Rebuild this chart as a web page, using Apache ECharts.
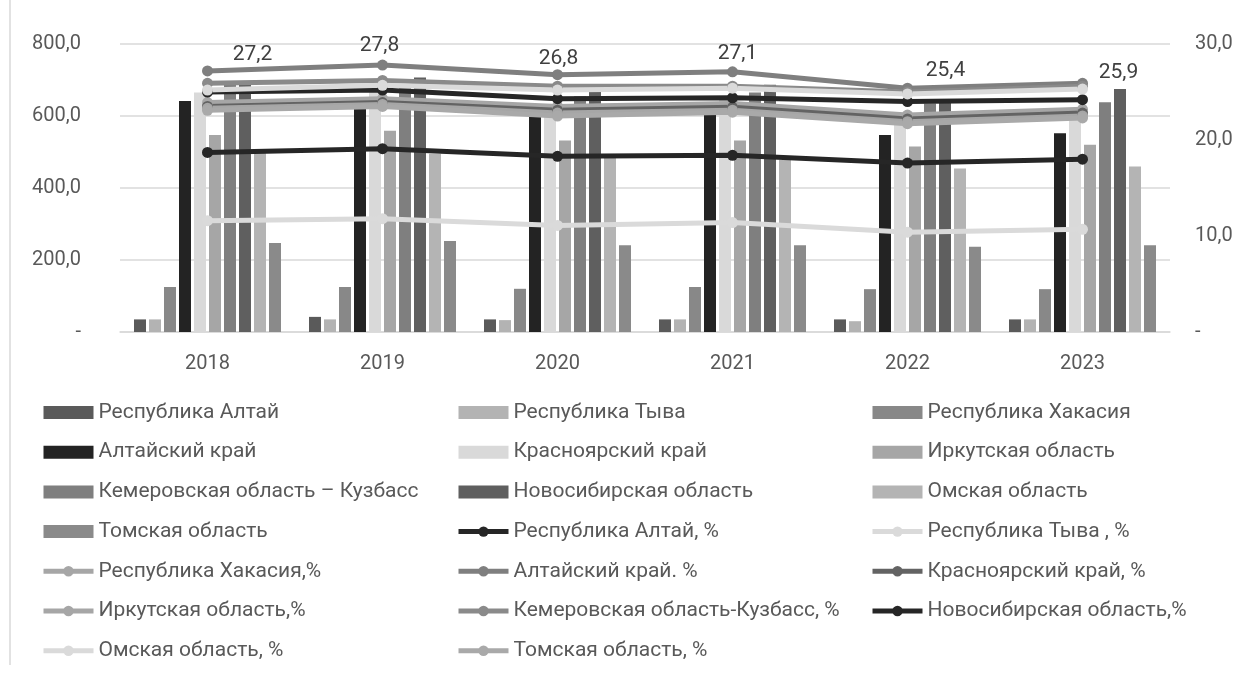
<!DOCTYPE html>
<html>
<head>
<meta charset="utf-8">
<script src="https://cdn.jsdelivr.net/npm/echarts@6/dist/echarts.min.js"></script>
<style>
html,body{margin:0;padding:0;background:#fff;}
#c{width:1258px;height:674px;}
</style>
</head>
<body>
<div id="c"></div>
<script>
// ---- data ----
const years = ['2018','2019','2020','2021','2022','2023'];
const leftTicks = [0, 200, 400, 600, 800];
const rightTicks = [0, 10, 20, 30];

// bars (left axis)
const altai       = [35, 42, 35, 35, 35, 35];
const tyva        = [35, 35, 33, 35, 30, 35];
const khakassia   = [125, 125, 120, 125, 119, 119];
const altaiKrai   = [642, 647, 612, 605, 547, 552];
const krasnoyarsk = [665, 670, 620, 650, 580, 590];
const irkutsk     = [547, 559, 532, 532, 515, 520];
const kemerovo    = [688, 680, 655, 665, 635, 638];
const novosibirsk = [697, 707, 687, 687, 645, 675];
const omsk        = [500, 495, 485, 478, 454, 460];
const tomsk       = [247, 253, 241, 241, 237, 241];

// lines (right axis, %)
const altaiP       = [18.7, 19.1, 18.3, 18.4, 17.6, 18.0];
const tyvaP        = [11.6, 11.8, 11.1, 11.4, 10.4, 10.7];
const khakassiaP   = [23.9, 24.3, 23.5, 23.8, 22.6, 23.2];
const altaiKraiP   = [27.2, 27.8, 26.8, 27.1, 25.4, 25.9];
const krasnoyarskP = [23.5, 23.9, 23.1, 23.4, 22.2, 22.8];
const irkutskP     = [23.3, 23.7, 22.8, 23.1, 21.9, 22.5];
const kemerovoP    = [25.9, 26.2, 25.6, 25.6, 25.0, 25.6];
const novosibirskP = [25.0, 25.2, 24.3, 24.4, 24.0, 24.2];
const omskP        = [25.2, 25.7, 25.2, 25.4, 24.8, 25.3];
const tomskP       = [23.1, 23.5, 22.5, 22.9, 21.7, 22.3];

// ---- styling ----
const FONT = 'Roboto';
const TXT = '#595959';
const fmt = v => v === 0 ? '-' : v.toFixed(1).replace('.', ',');

const barDefs = [
  ['Республика Алтай', altai, '#5a5a5a'],
  ['Республика Тыва', tyva, '#b3b3b3'],
  ['Республика Хакасия', khakassia, '#888888'],
  ['Алтайский край', altaiKrai, '#232323'],
  ['Красноярский край', krasnoyarsk, '#d9d9d9'],
  ['Иркутская область', irkutsk, '#a6a6a6'],
  ['Кемеровская область – Кузбасс', kemerovo, '#7f7f7f'],
  ['Новосибирская область', novosibirsk, '#5f5f5f'],
  ['Омская область', omsk, '#b4b4b4'],
  ['Томская область', tomsk, '#8a8a8a']
];
const lineDefs = [
  ['Республика Алтай, %', altaiP, '#262626'],
  ['Республика Тыва , %', tyvaP, '#dadada'],
  ['Республика Хакасия,%', khakassiaP, '#a6a6a6'],
  ['Алтайский край. %', altaiKraiP, '#7f7f7f'],
  ['Красноярский край, %', krasnoyarskP, '#636363'],
  ['Иркутская область,%', irkutskP, '#a6a6a6'],
  ['Кемеровская область-Кузбасс, %', kemerovoP, '#8a8a8a'],
  ['Новосибирская область,%', novosibirskP, '#262626'],
  ['Омская область, %', omskP, '#dadada'],
  ['Томская область, %', tomskP, '#a9a9a9']
];
const labelOffsets = [[45, 5], [-3, 2], [1, 5], [5, 3], [38, 4], [36, 10]];

const series = [];
barDefs.forEach(([name, data, color]) => {
  series.push({
    name, type: 'bar', yAxisIndex: 0, data,
    barWidth: 12, barGap: '25%',
    itemStyle: { color },
    emphasis: { disabled: true }
  });
});
lineDefs.forEach(([name, data, color]) => {
  const s = {
    name, type: 'line', yAxisIndex: 1,
    data: data.slice(),
    symbol: 'circle', symbolSize: 11,
    lineStyle: { color, width: 5 },
    itemStyle: { color },
    emphasis: { disabled: true }
  };
  if (name === 'Алтайский край. %') {
    s.data = data.map((v, k) => ({ value: v, label: { offset: labelOffsets[k] } }));
    s.label = {
      show: true, position: 'top', color: '#404040',
      fontFamily: FONT, fontSize: 21,
      formatter: p => p.value.toFixed(1).replace('.', ',')
    };
  }
  series.push(s);
});

const allNames = barDefs.map(d => d[0]).concat(lineDefs.map(d => d[0]));
const colLefts = [36, 451, 865];
const legends = colLefts.map((left, c) => ({
  orient: 'vertical', left, top: 397,
  itemWidth: 50, itemHeight: 13, itemGap: 18.7,
  selectedMode: false,
  lineStyle: { width: 5 },
  textStyle: { color: TXT, fontFamily: FONT, fontSize: 21, lineHeight: 20 },
  data: allNames.filter((n, i) => i % 3 === c).map(n => {
    const isBar = allNames.indexOf(n) < 10;
    return isBar ? { name: n, icon: 'rect' } : { name: n };
  })
}));

const chart = echarts.init(document.getElementById('c'));
chart.setOption({
  animation: false,
  backgroundColor: '#ffffff',
  textStyle: { fontFamily: FONT },
  graphic: [{
    type: 'line', shape: { x1: 10, y1: 0, x2: 10, y2: 665 },
    style: { stroke: '#d9d9d9', lineWidth: 1.5 }
  }],
  legend: legends,
  grid: { left: 120, right: 88, top: 44, bottom: 342, containLabel: false },
  xAxis: {
    type: 'category', data: years,
    axisLine: { lineStyle: { color: '#d9d9d9', width: 1.5 } },
    axisTick: { show: false },
    axisLabel: { color: TXT, fontFamily: FONT, fontSize: 20, margin: 22 }
  },
  yAxis: [{
    type: 'value', min: leftTicks[0], max: leftTicks[leftTicks.length - 1], interval: 200,
    axisLine: { show: false }, axisTick: { show: false },
    splitLine: { lineStyle: { color: '#d9d9d9', width: 1.5 } },
    axisLabel: { color: TXT, fontFamily: FONT, fontSize: 20, margin: 39, formatter: fmt }
  }, {
    type: 'value', min: rightTicks[0], max: rightTicks[rightTicks.length - 1], interval: 10,
    axisLine: { show: false }, axisTick: { show: false },
    splitLine: { show: false },
    axisLabel: { color: TXT, fontFamily: FONT, fontSize: 20, margin: 25, formatter: fmt }
  }],
  series
});
</script>
</body>
</html>
